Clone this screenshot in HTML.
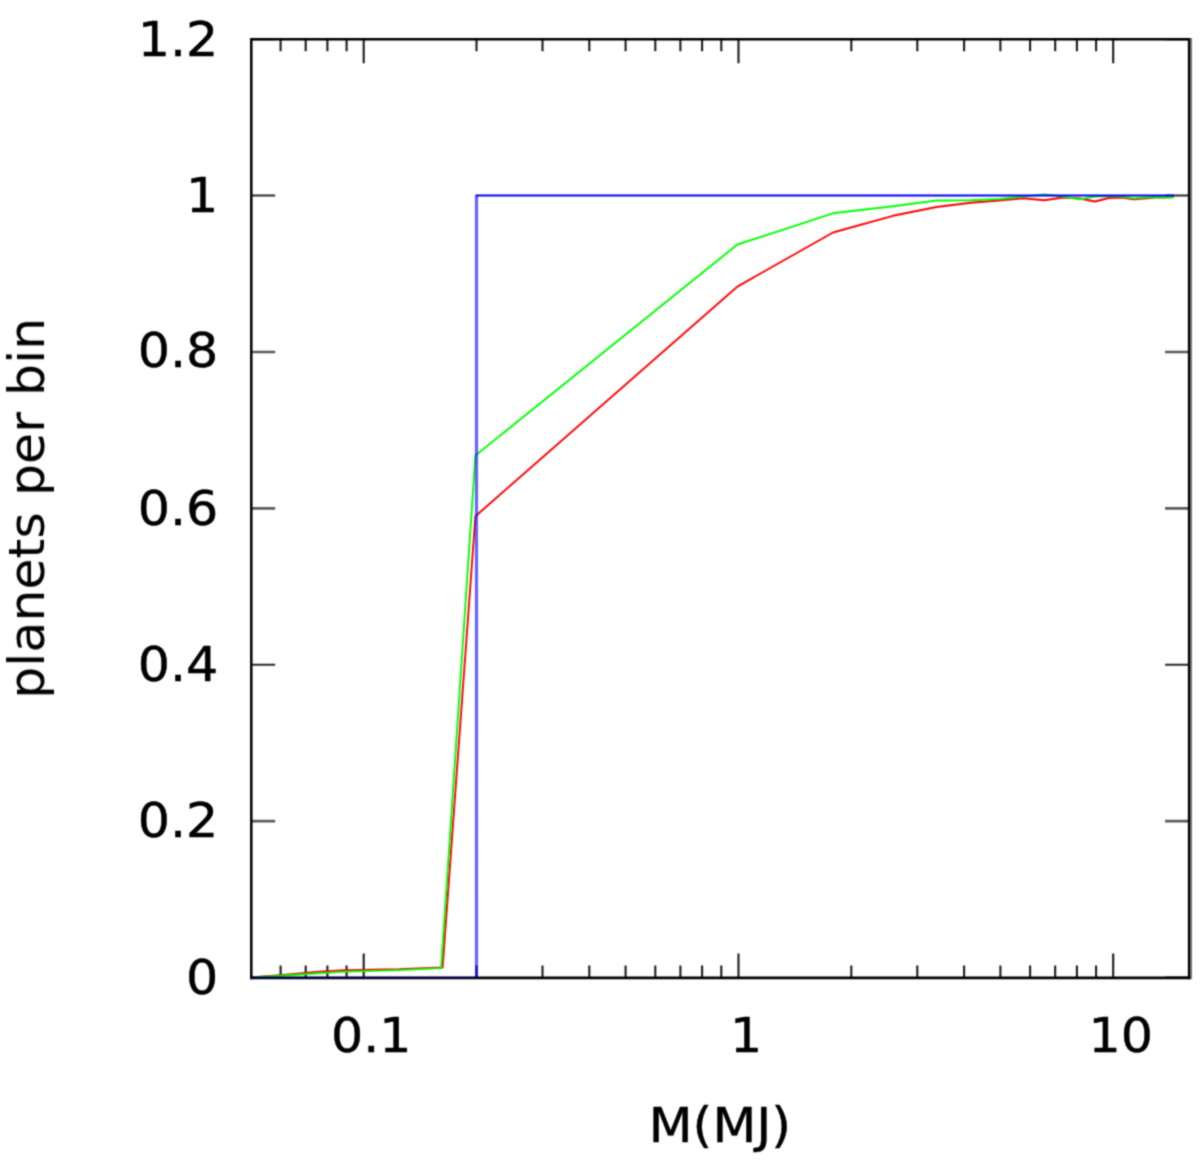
<!DOCTYPE html><html><head><meta charset="utf-8"><title>plot</title><style>html,body{margin:0;padding:0;background:#fff}svg{display:block}text{stroke:#000;stroke-width:0.5px;font-family:"DejaVu Sans","Liberation Sans",sans-serif;fill:#000}</style></head><body>
<svg width="1200" height="1160" viewBox="0 0 1200 1160">
<rect width="1200" height="1160" fill="#fff"/>
<g filter="url(#b)"><defs><filter id="b" color-interpolation-filters="sRGB" x="-5%" y="-5%" width="110%" height="110%"><feConvolveMatrix order="3" kernelMatrix="0.0400 0.1200 0.0400 0.1200 0.3600 0.1200 0.0400 0.1200 0.0400" edgeMode="none"/></filter></defs>
<path d="M280.6,977.5v-12M280.6,39.2v12M305.7,977.5v-12M305.7,39.2v12M327.4,977.5v-12M327.4,39.2v12M346.6,977.5v-12M346.6,39.2v12M363.7,977.5v-24M363.7,39.2v24M476.5,977.5v-12M476.5,39.2v12M542.5,977.5v-12M542.5,39.2v12M589.3,977.5v-12M589.3,39.2v12M625.6,977.5v-12M625.6,39.2v12M655.3,977.5v-12M655.3,39.2v12M680.4,977.5v-12M680.4,39.2v12M702.1,977.5v-12M702.1,39.2v12M721.3,977.5v-12M721.3,39.2v12M738.5,977.5v-24M738.5,39.2v24M851.3,977.5v-12M851.3,39.2v12M917.3,977.5v-12M917.3,39.2v12M964.1,977.5v-12M964.1,39.2v12M1000.4,977.5v-12M1000.4,39.2v12M1030.1,977.5v-12M1030.1,39.2v12M1055.2,977.5v-12M1055.2,39.2v12M1076.9,977.5v-12M1076.9,39.2v12M1096.1,977.5v-12M1096.1,39.2v12M1113.2,977.5v-24M1113.2,39.2v24" stroke="#1c1c1c" stroke-width="2.1" fill="none"/>
<path d="M251.2,977.5h24M1189.1,977.5h-24M251.2,664.7h24M1189.1,664.7h-24M251.2,195.6h24M1189.1,195.6h-24M251.2,39.2h24M1189.1,39.2h-24" stroke="#2a2a2a" stroke-width="2.0" fill="none"/>
<path d="M251.2,821.1h24M1189.1,821.1h-24M251.2,508.4h24M1189.1,508.4h-24M251.2,352.0h24M1189.1,352.0h-24" stroke="#5c5c5c" stroke-width="2.7" fill="none"/>
<polyline points="250.9,977.5 288.7,974.4 319.0,971.6 345.5,970.1 398.9,969.3 442.6,967.5 475.4,516.2 737.4,286.6 833.0,232.5 892.9,215.8 936.5,207.0 970.9,202.8 999.3,200.5 1023.4,198.3 1044.5,200.3 1063.1,197.5 1079.8,198.5 1095.0,201.5 1108.8,198.0 1121.6,197.5 1133.4,199.4 1144.5,198.5 1154.8,197.5 1164.5,197.5 1173.7,197.0" fill="none" stroke="#ff0000" stroke-width="1.9" stroke-opacity="1" stroke-linejoin="round"/>
<polyline points="250.9,977.5 288.7,975.2 345.5,971.6 398.9,970.1 441.1,968.1 475.4,455.5 737.4,244.5 833.0,213.3 892.9,206.3 936.5,200.5 970.9,200.3 999.3,199.0 1023.4,196.5 1044.5,194.5 1063.1,196.5 1079.8,199.4 1095.0,196.5 1108.8,196.0 1121.6,196.5 1133.4,198.4 1144.5,197.5 1154.8,197.0 1164.5,197.5 1173.7,197.2" fill="none" stroke="#00ff00" stroke-width="1.9" stroke-opacity="1" stroke-linejoin="round"/>
<polyline points="476.5,977.5 476.5,195.6" fill="none" stroke="#0000ff" stroke-width="3.2" stroke-opacity="0.6" stroke-linejoin="round"/>
<polyline points="475.5,195.6 1173.8,195.6" fill="none" stroke="#0000ff" stroke-width="2.0" stroke-opacity="1" stroke-linejoin="round"/>
<path d="M1191.2,38.0V979.1" stroke="#777" stroke-width="1.7" fill="none"/>
<path d="M251.29999999999998,977.9V39.2H1189.1V977.9" stroke="#000" stroke-width="2.5" fill="none" stroke-linejoin="miter" stroke-linecap="square"/>
<path d="M250.1,977.9H1190.3" stroke="#000" stroke-width="2.8" fill="none"/>
<polyline points="250.9,977.5 476.5,977.5" fill="none" stroke="#0000ff" stroke-width="2.0" stroke-opacity="0.3" stroke-linejoin="round"/>
<text transform="translate(218.3,994.1) scale(1,0.952)" font-size="50.7" text-anchor="end">0</text>
<text transform="translate(218.3,836.8) scale(1,0.952)" font-size="50.7" text-anchor="end">0.2</text>
<text transform="translate(218.3,680.5) scale(1,0.952)" font-size="50.7" text-anchor="end">0.4</text>
<text transform="translate(218.3,525.0) scale(1,0.952)" font-size="50.7" text-anchor="end">0.6</text>
<text transform="translate(218.3,367.0) scale(1,0.952)" font-size="50.7" text-anchor="end">0.8</text>
<text transform="translate(218.3,211.5) scale(1,0.952)" font-size="50.7" text-anchor="end">1</text>
<text transform="translate(218.3,55.5) scale(1,0.952)" font-size="50.7" text-anchor="end">1.2</text>
<text transform="translate(371.3,1052.1) scale(1,0.952)" font-size="50.7" text-anchor="middle">0.1</text>
<text transform="translate(746.1,1052.1) scale(1,0.952)" font-size="50.7" text-anchor="middle">1</text>
<text transform="translate(1120.8,1052.1) scale(1,0.952)" font-size="50.7" text-anchor="middle">10</text>
<text transform="translate(719.9,1142.3) scale(1,0.958)" font-size="50.8" text-anchor="middle">M(MJ)</text>
<text transform="translate(44.0,698.8) rotate(-90)" font-size="50.6" style="stroke:none">planets per bin</text>
</g></svg></body></html>
